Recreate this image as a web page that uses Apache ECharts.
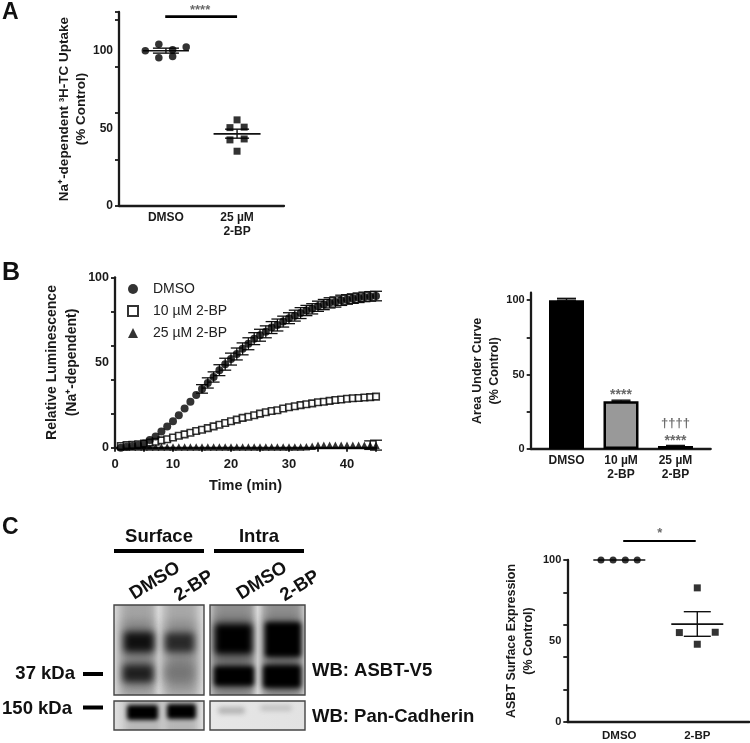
<!DOCTYPE html>
<html>
<head>
<meta charset="utf-8">
<script src="https://cdn.jsdelivr.net/npm/echarts@6/dist/echarts.min.js"></script>
<style>
  html, body { margin: 0; background: #fff; }
  #main { width: 750px; height: 743px; }
</style>
</head>
<body>
<div id="main"></div>
<script>
// panel A, uptake [group, value], group 1 = DMSO, 2 = 25 uM
const uptakeDmso = [[0.71, 100], [0.9, 104.3], [0.9, 95.5], [1.094, 100.6], [1.094, 96.3], [1.285, 102.4]]
const uptakeBp = [[2, 55.5], [1.9, 50.5], [2.1, 50.8], [1.9, 42.6], [2.1, 43.2], [2, 35.3]]
// [group, mean, low, high]
const uptakeSummary = [[1, 100, 98.5, 101.7], [2, 46.5, 43.7, 49.5]]

// panel B, time course
const minutes = [1, 2, 3, 4, 5, 6, 7, 8, 9, 10, 11, 12, 13, 14, 15, 16, 17, 18, 19, 20, 21, 22, 23, 24, 25, 26, 27, 28, 29, 30, 31, 32, 33, 34, 35, 36, 37, 38, 39, 40, 41, 42, 43, 44, 45]
const lumDmso = [0, 0.5, 1, 1.5, 2.5, 4.5, 6.5, 9.5, 12.5, 15.5, 19, 23, 27, 31, 34.5, 38, 41.5, 45.5, 49, 52, 55, 58, 61, 64, 66, 68, 70.5, 72, 74, 76, 77.5, 79, 80.5, 81.5, 83, 84, 85, 85.5, 86.5, 87, 87.5, 88, 88.5, 88.8, 89]
// whiskers shorter than the marker do not show in the picture, those stay 0
const lumDmsoErr = [0, 0, 0, 0, 0, 0, 0, 0, 0, 0, 0, 0, 0, 0, 2.5, 3, 3, 3.2, 3.5, 3.5, 3.5, 3.5, 3.5, 3.5, 3.5, 3.5, 3.5, 3.5, 3.2, 3.2, 3.2, 3.2, 3, 3, 3, 3, 3, 3, 3, 2.8, 2.8, 2.8, 2.8, 2.8, 2.8]
const lum10 = [1, 1.5, 1.7, 2, 2.5, 3, 3.5, 4.3, 5, 6, 7, 7.8, 8.8, 9.8, 10.5, 11.5, 12.5, 13.5, 14.5, 15.5, 16.5, 17.5, 18.2, 19, 20, 20.8, 21.5, 22, 23, 23.7, 24.3, 25, 25.5, 26, 26.7, 27, 27.5, 28, 28.3, 28.7, 29, 29.2, 29.5, 29.7, 30]
const lum25 = [0.4, 0.4, 0.4, 0.4, 0.4, 0.4, 0.4, 0.4, 0.4, 0.4, 0.4, 0.4, 0.4, 0.4, 0.4, 0.4, 0.4, 0.4, 0.4, 0.4, 0.4, 0.4, 0.4, 0.4, 0.4, 0.4, 0.4, 0.4, 0.4, 0.4, 0.4, 0.4, 0.6, 0.8, 1.5, 1.5, 1.5, 1.5, 1.5, 1.5, 1.5, 1.5, 1.5, 1.5, 1.5]
const lum25Err = [0, 0, 0, 0, 0, 0, 0, 0, 0, 0, 0, 0, 0, 0, 0, 0, 0, 0, 0, 0, 0, 0, 0, 0, 0, 0, 0, 0, 0, 0, 0, 0, 0, 0, 0, 0, 0, 0, 0, 0, 0, 0, 0, 2.5, 2.9]

// panel B, area under curve
const aucLabels = ['DMSO', '10 µM\n2-BP', '25 µM\n2-BP']
const aucValues = [100, 32, 2]
const aucErr = [1.2, 0.8, 0.4]

// panel C, surface expression
const surfaceDmso = [[0.765, 100], [0.92, 100], [1.077, 100], [1.23, 100]]
const surfaceBp = [[2, 82.8], [1.77, 55.2], [2.23, 55.4], [2, 48]]
const surfaceSummary = [[1, 100, 100, 100], [2, 60.4, 52.9, 68.1]]

const font = '"Liberation Sans", Arial, sans-serif'
const ink = '#1a1a1a'

function yAxis(grid, max, size, name, gap, lineHeight) {
  return {
    type: 'value', gridIndex: grid, min: 0, max: max,
    axisLine: { show: true, onZero: false, lineStyle: { color: ink, width: 2.3 } },
    axisTick: { show: true, length: 4, lineStyle: { color: ink, width: 1.8 }, customValues: max > 100 && max < 120 ? [0, 25, 50, 75, 100] : undefined },
    axisLabel: { color: ink, fontFamily: font, fontWeight: 'bold', fontSize: size, margin: 6, customValues: [0, 50, 100] },
    splitLine: { show: false },
    name: name, nameLocation: 'middle', nameRotate: 90, nameGap: gap,
    nameTextStyle: { color: ink, fontFamily: font, fontWeight: 'bold', fontSize: size + 1.5, lineHeight: lineHeight }
  }
}

function groupAxis(grid, min, max, labels, size, margin) {
  return {
    type: 'value', gridIndex: grid, min: min, max: max,
    axisLine: { show: true, onZero: false, lineStyle: { color: ink, width: 2.3 } },
    axisTick: { show: false },
    axisLabel: {
      color: ink, fontFamily: font, fontWeight: 'bold', fontSize: size, lineHeight: 14, margin: margin,
      customValues: labels.map((l, i) => i + 1),
      formatter: v => labels[v - 1]
    },
    splitLine: { show: false }
  }
}

// mean line with SEM whiskers, half widths in px
function summaryRender(meanHalf, capHalf) {
  return function (params, api) {
    const mean = api.coord([api.value(0), api.value(1)])
    const low = api.coord([api.value(0), api.value(2)])
    const high = api.coord([api.value(0), api.value(3)])
    const seg = (x1, y1, x2, y2, w) => ({
      type: 'line', shape: { x1, y1, x2, y2 }, style: { stroke: '#111', lineWidth: w }
    })
    return {
      type: 'group',
      children: [
        seg(mean[0] - meanHalf, mean[1], mean[0] + meanHalf, mean[1], 1.6),
        seg(low[0], low[1], high[0], high[1], 1.4),
        seg(low[0] - capHalf, low[1], low[0] + capHalf, low[1], 1.4),
        seg(high[0] - capHalf, high[1], high[0] + capHalf, high[1], 1.4)
      ]
    }
  }
}

// whisker with caps, for the time course and bars
function whiskerRender(capHalf, width) {
  return function (params, api) {
    const low = api.coord([api.value(0), api.value(1)])
    const high = api.coord([api.value(0), api.value(2)])
    const seg = (x1, y1, x2, y2) => ({
      type: 'line', shape: { x1, y1, x2, y2 }, style: { stroke: '#111', lineWidth: width }
    })
    return {
      type: 'group',
      children: [
        seg(low[0], low[1], high[0], high[1]),
        seg(low[0] - capHalf, low[1], low[0] + capHalf, low[1]),
        seg(high[0] - capHalf, high[1], high[0] + capHalf, high[1])
      ]
    }
  }
}

function noteSeries(axis, x, y, text, size) {
  return {
    type: 'scatter', xAxisIndex: axis, yAxisIndex: axis, clip: false, symbolSize: 0, silent: true,
    data: [[x, y]],
    label: { show: true, position: 'inside', formatter: text, color: '#444', fontFamily: font, fontWeight: 'bold', fontSize: size }
  }
}

function sigLine(axis, x1, x2, y, width) {
  return {
    type: 'line', xAxisIndex: axis, yAxisIndex: axis, clip: false, symbol: 'none', silent: true,
    data: [[x1, y], [x2, y]],
    lineStyle: { color: '#000', width: width }
  }
}

function dots(name, axis, data, symbol, size, style) {
  return {
    name: name, type: 'scatter', xAxisIndex: axis, yAxisIndex: axis, clip: false,
    symbol: symbol, symbolSize: size, data: data, itemStyle: style
  }
}

const black = { color: '#000' }

// western blots are photographs, they are only painted here as blurred shapes.
// the shape sits off canvas so that just its soft shadow lands on the panel
function softBand(b) {
  const c = 'rgba(' + b[4] + ',' + b[4] + ',' + b[4] + ',' + b[5] + ')'
  return {
    type: 'rect', shape: { x: b[0] - 2000, y: b[1], width: b[2] - b[0], height: b[3] - b[1], r: 3 },
    style: { fill: '#000', shadowColor: c, shadowBlur: b[6], shadowOffsetX: 2000 }
  }
}

function blotPanel(x, y, w, h, stops, bands) {
  return [
    { type: 'rect', shape: { x, y, width: w, height: h },
      style: { fill: { type: 'linear', x: 0, y: 0, x2: 1, y2: 0, colorStops: stops.map(s => ({ offset: s[0], color: s[1] })) } } }
  ].concat(bands.map(softBand))
}

function whiteBox(x, y, w, h) {
  return { type: 'rect', shape: { x, y, width: w, height: h }, style: { fill: '#fff' } }
}

function frame(x, y, w, h) {
  return { type: 'rect', shape: { x, y, width: w, height: h }, style: { fill: 'none', stroke: '#444', lineWidth: 1.4 } }
}

function txt(x, y, text, size, align, rotation) {
  return {
    type: 'text', x: x, y: y, rotation: rotation || 0,
    style: { text: text, fill: '#111', font: 'bold ' + size + 'px ' + font, align: align || 'center', verticalAlign: 'middle' }
  }
}

function bar(x, y, w, h) {
  return { type: 'rect', shape: { x, y, width: w, height: h }, style: { fill: '#000' } }
}

const rot = 32 * Math.PI / 180
const graphics = [].concat(
  // [x1, y1, x2, y2, gray, alpha, blur]
  blotPanel(114, 605, 90, 90,
    [[0, '#dadada'], [0.08, '#cfcfcf'], [0.42, '#d0d0d0'], [0.49, '#e8e8e8'], [0.56, '#d0d0d0'], [0.9, '#d0d0d0'], [1, '#dedede']],
    [[121, 596, 155, 700, 140, 0.65, 10], [165, 596, 197, 700, 140, 0.6, 10],
     [122, 622, 154, 688, 90, 0.55, 12], [165, 622, 196, 688, 100, 0.5, 12],
     [124, 632, 154, 652, 10, 0.95, 7], [165, 633, 194, 652, 30, 0.9, 7],
     [123, 665, 153, 682, 25, 0.95, 7], [165, 665, 193, 680, 110, 0.7, 9]]),
  blotPanel(210, 605, 95, 90,
    [[0, '#cfcfcf'], [0.06, '#c0c0c0'], [0.42, '#c0c0c0'], [0.5, '#f0f0f0'], [0.57, '#c0c0c0'], [0.92, '#c0c0c0'], [1, '#e0e0e0']],
    [[213, 596, 254, 700, 120, 0.7, 10], [264, 596, 302, 700, 120, 0.7, 10],
     [214, 618, 252, 690, 80, 0.6, 10], [264, 618, 300, 690, 80, 0.6, 10],
     [215, 624, 252, 654, 0, 1, 6], [265, 622, 301, 657, 0, 1, 5],
     [214, 666, 254, 686, 0, 1, 5], [263, 665, 301, 688, 0, 1, 5]]),
  blotPanel(114, 701, 90, 29,
    [[0, '#e0e0e0'], [0.12, '#cfcfcf'], [0.85, '#c8c8c8'], [1, '#e0e0e0']],
    [[126, 695, 160, 740, 170, 0.6, 6], [166, 695, 197, 740, 170, 0.6, 6],
     [127, 705, 158, 720, 0, 1, 4], [167, 704, 196, 719, 0, 1, 4]]),
  blotPanel(210, 701, 95, 29,
    [[0, '#e6e6e6'], [1, '#e2e2e2']],
    [[218, 707, 245, 714, 170, 0.85, 5], [260, 705, 292, 711, 185, 0.8, 5]]),
  [
    // the soft shadows stop at the panel edges
    whiteBox(100, 570, 215, 35), whiteBox(100, 695, 215, 6), whiteBox(100, 730, 215, 13),
    whiteBox(100, 570, 14, 173), whiteBox(204, 570, 6, 173), whiteBox(305, 570, 7, 173),
    frame(114, 605, 90, 90), frame(210, 605, 95, 90), frame(114, 701, 90, 29), frame(210, 701, 95, 29),
    txt(2, 13, 'A', 23, 'left'), txt(2, 273, 'B', 25, 'left'), txt(2, 528, 'C', 23, 'left'),
    txt(159, 537, 'Surface', 18.5), bar(114, 549, 90, 4),
    txt(259, 537, 'Intra', 18.5), bar(214, 549, 90, 4),
    txt(155, 581, 'DMSO', 18.5, 'center', rot), txt(194, 586, '2-BP', 18.5, 'center', rot),
    txt(262, 581, 'DMSO', 18.5, 'center', rot), txt(300, 586, '2-BP', 18.5, 'center', rot),
    txt(75, 674, '37 kDa', 18.5, 'right'), bar(83, 672, 20, 4),
    txt(72, 709, '150 kDa', 18.5, 'right'), bar(83, 705.5, 20, 4),
    txt(312, 671, 'WB: ASBT-V5', 18.5, 'left'), txt(312, 717, 'WB: Pan-Cadherin', 18.5, 'left')
  ]
)

const option = {
  animation: false,
  backgroundColor: '#fff',
  textStyle: { fontFamily: font },
  grid: [
    { left: 119, top: 12, width: 165, height: 194 },
    { left: 115, top: 277.3, width: 261, height: 170.4 },
    { left: 530.7, top: 292.7, width: 180, height: 156.3 },
    { left: 567.3, top: 560, width: 182, height: 168.3 }
  ],
  xAxis: [
    groupAxis(0, 0.34, 2.66, ['DMSO', '25 µM\n2-BP'], 12, 5),
    {
      type: 'value', gridIndex: 1, min: 0, max: 45, interval: 5,
      axisLine: { show: true, onZero: false, lineStyle: { color: ink, width: 2.3 } },
      axisTick: { show: true, length: 4, lineStyle: { color: ink, width: 1.8 } },
      axisLabel: { color: ink, fontFamily: font, fontWeight: 'bold', fontSize: 13, margin: 10, customValues: [0, 10, 20, 30, 40] },
      splitLine: { show: false },
      name: 'Time (min)', nameLocation: 'middle', nameGap: 31,
      nameTextStyle: { color: ink, fontFamily: font, fontWeight: 'bold', fontSize: 14.5 }
    },
    groupAxis(2, 0.343, 3.646, aucLabels, 12, 5),
    groupAxis(3, 0.333, 2.667, ['DMSO', '2-BP'], 11.5, 7)
  ],
  yAxis: [
    yAxis(0, 125, 12, 'Na⁺-dependent ³H-TC Uptake\n(% Control)', 27, 16.5),
    yAxis(1, 100, 12.5, 'Relative Luminescence\n(Na⁺-dependent)', 33, 20),
    yAxis(2, 105, 11, 'Area Under Curve\n(% Control)', 26, 16.5),
    yAxis(3, 100, 11, 'ASBT Surface Expression\n(% Control)', 31, 16.5)
  ],
  legend: {
    data: [
      { name: 'DMSO', itemStyle: black },
      { name: '10 µM 2-BP' },
      { name: '25 µM 2-BP' }
    ],
    orient: 'vertical', left: 122, top: 277, itemWidth: 10, itemHeight: 10, itemGap: 8,
    textStyle: { color: '#222', fontFamily: font, fontSize: 14, padding: [0, 0, 0, 10] }
  },
  series: [
    // A
    dots('Uptake DMSO', 0, uptakeDmso, 'circle', 7.5, black),
    dots('Uptake 25 µM', 0, uptakeBp, 'rect', 7, black),
    { type: 'custom', xAxisIndex: 0, yAxisIndex: 0, data: [uptakeSummary[0]], renderItem: summaryRender(23, 13), encode: { x: 0, y: 1 }, silent: true },
    { type: 'custom', xAxisIndex: 0, yAxisIndex: 0, data: [uptakeSummary[1]], renderItem: summaryRender(23.5, 12), encode: { x: 0, y: 1 }, silent: true },
    sigLine(0, 0.99, 2, 122, 2.6),
    noteSeries(0, 1.48, 126, '****', 13),

    // B, time course
    {
      type: 'custom', xAxisIndex: 1, yAxisIndex: 1, clip: false, silent: true,
      data: minutes.map((m, i) => [m, lumDmso[i] - lumDmsoErr[i], lumDmso[i] + lumDmsoErr[i]]).filter(d => d[2] > d[1]),
      renderItem: whiskerRender(6, 1.3), encode: { x: 0, y: [1, 2] }
    },
    {
      type: 'custom', xAxisIndex: 1, yAxisIndex: 1, clip: false, silent: true,
      data: minutes.map((m, i) => [m, lum25[i] - lum25Err[i], lum25[i] + lum25Err[i]]).filter(d => d[2] > d[1]),
      renderItem: whiskerRender(6, 1.3), encode: { x: 0, y: [1, 2] }
    },
    dots('25 µM 2-BP', 1, minutes.map((m, i) => [m, lum25[i]]), 'triangle', 7.5, black),
    dots('10 µM 2-BP', 1, minutes.map((m, i) => [m, lum10[i]]), 'rect', 6.5, { color: '#fff', borderColor: '#000', borderWidth: 1.6 }),
    dots('DMSO', 1, minutes.map((m, i) => [m, lumDmso[i]]), 'circle', 8, black),

    // B, bars
    {
      type: 'bar', xAxisIndex: 2, yAxisIndex: 2, barWidth: 35, silent: true,
      data: aucValues.map((v, i) => ({
        value: [i + 1, v],
        itemStyle: { color: i === 1 ? '#999' : '#000', borderColor: '#000', borderWidth: 2.5 }
      }))
    },
    {
      type: 'custom', xAxisIndex: 2, yAxisIndex: 2, silent: true, clip: false,
      data: aucValues.map((v, i) => [i + 1, v, v + aucErr[i]]),
      renderItem: whiskerRender(9.5, 1.4), encode: { x: 0, y: [1, 2] }
    },
    noteSeries(2, 2, 36, '****', 14),
    noteSeries(2, 3, 17, '††††', 13),
    noteSeries(2, 3, 5, '****', 14),

    // C
    { type: 'custom', xAxisIndex: 3, yAxisIndex: 3, clip: false, data: [surfaceSummary[0]], renderItem: summaryRender(26, 0), encode: { x: 0, y: 1 }, silent: true },
    { type: 'custom', xAxisIndex: 3, yAxisIndex: 3, clip: false, data: [surfaceSummary[1]], renderItem: summaryRender(26, 13.5), encode: { x: 0, y: 1 }, silent: true },
    dots('Surface DMSO', 3, surfaceDmso, 'circle', 7, black),
    dots('Surface 2-BP', 3, surfaceBp, 'rect', 7, black),
    sigLine(3, 1.05, 1.98, 111.7, 2),
    noteSeries(3, 1.52, 116.5, '*', 13)
  ],
  graphic: graphics
}

var myChart = echarts.init(document.getElementById('main'))
myChart.setOption(option)
</script>
</body>
</html>
